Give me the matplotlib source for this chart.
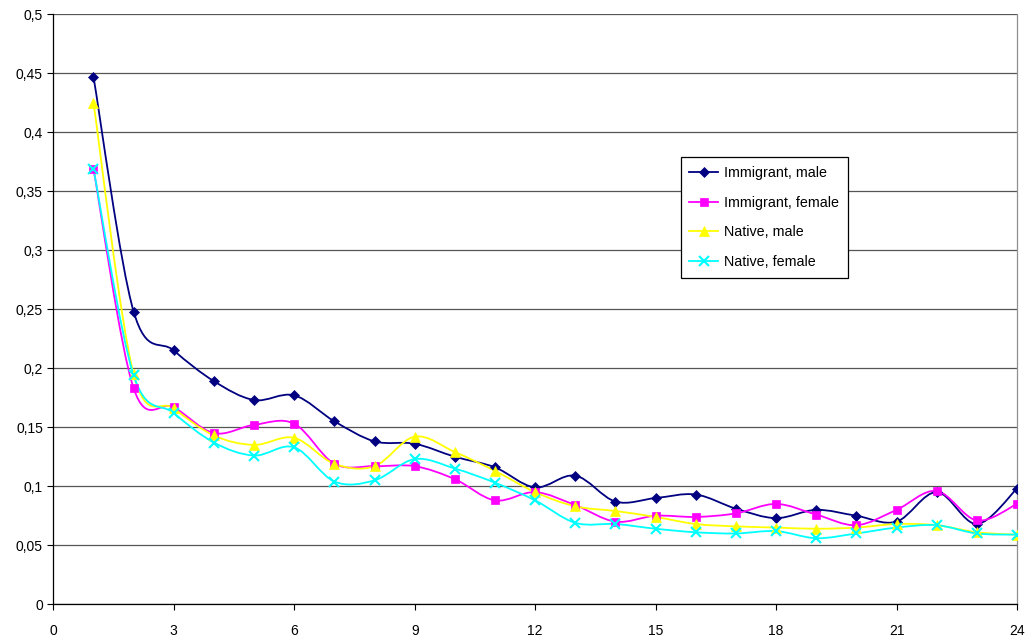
import numpy as np
import matplotlib
matplotlib.use("Agg")
import matplotlib.pyplot as plt
from matplotlib.path import Path
from matplotlib.patches import PathPatch
from matplotlib.lines import Line2D

plt.rcParams['font.family'] = ['Liberation Sans', 'DejaVu Sans']

# duration (x) and rates per group
x = np.arange(1, 25)
immigrant_male = [0.447, 0.248, 0.215, 0.189, 0.173, 0.177, 0.155, 0.138, 0.136, 0.125,
                  0.116, 0.099, 0.109, 0.087, 0.090, 0.093, 0.081, 0.073, 0.080, 0.075,
                  0.070, 0.095, 0.068, 0.098]
immigrant_female = [0.369, 0.183, 0.167, 0.145, 0.152, 0.153, 0.119, 0.117, 0.117, 0.106,
                    0.088, 0.095, 0.084, 0.070, 0.075, 0.074, 0.077, 0.085, 0.076, 0.067,
                    0.080, 0.096, 0.071, 0.085]
native_male = [0.425, 0.195, 0.166, 0.143, 0.135, 0.141, 0.119, 0.117, 0.142, 0.129,
               0.113, 0.095, 0.083, 0.079, 0.074, 0.068, 0.066, 0.065, 0.064, 0.065,
               0.068, 0.067, 0.061, 0.059]
native_female = [0.369, 0.194, 0.162, 0.137, 0.126, 0.133, 0.104, 0.105, 0.123, 0.115,
                 0.103, 0.088, 0.069, 0.068, 0.064, 0.061, 0.060, 0.062, 0.056, 0.060,
                 0.065, 0.067, 0.060, 0.059]

labels = ['Immigrant, male', 'Immigrant, female', 'Native, male', 'Native, female']
colors = ['#000080', '#FF00FF', '#FFFF00', '#00FFFF']
markers = ['D', 's', '^', 'x']
msizes = [5.5, 6, 6.5, 6.5]
series = [immigrant_male, immigrant_female, native_male, native_female]


def smooth_path(xs, ys):
    # cubic bezier segments with catmull-rom style tangents
    pts = np.column_stack([xs, ys]).astype(float)
    n = len(pts)
    verts = [pts[0]]
    codes = [Path.MOVETO]
    for i in range(n - 1):
        p0 = pts[max(i - 1, 0)]
        p1 = pts[i]
        p2 = pts[i + 1]
        p3 = pts[min(i + 2, n - 1)]
        c1 = p1 + (p2 - p0) / 6.0
        c2 = p2 - (p3 - p1) / 6.0
        verts += [c1, c2, p2]
        codes += [Path.CURVE4] * 3
    return Path(verts, codes)


fig = plt.figure(figsize=(10.35, 6.42), dpi=100)
ax = fig.add_axes([53.3 / 1035, 1 - 604.3 / 642, (1017 - 53.3) / 1035, (604.3 - 14) / 642])

handles = []
for vals, c, m, ms, lab in zip(series, colors, markers, msizes, labels):
    ax.add_patch(PathPatch(smooth_path(x, vals), facecolor='none', edgecolor=c,
                           lw=1.3, zorder=3))
    mew = 1.5 if m == 'x' else 0.5
    ax.plot(x, vals, linestyle='none', marker=m, color=c, markersize=ms,
            markeredgewidth=mew, zorder=4)
    handles.append(Line2D([], [], color=c, lw=1.3, marker=m, markersize=ms,
                          markeredgewidth=mew, label=lab))

ax.set_xlim(0, 24)
ax.set_ylim(0, 0.5)
ax.set_xticks(np.arange(0, 25, 3))
ax.set_yticks(np.arange(0, 0.501, 0.05))
ax.set_yticklabels(['0'] + [('%g' % v).replace('.', ',') for v in np.arange(0.05, 0.501, 0.05)])
ax.tick_params(axis='both', labelsize=10, length=4, width=0.8, color='black', direction='out')
ax.tick_params(axis='x', pad=10)
ax.yaxis.grid(True, color='#555555', lw=0.9)
ax.set_axisbelow(True)

for s in ['left', 'bottom']:
    ax.spines[s].set_color('black')
    ax.spines[s].set_linewidth(0.9)
ax.spines['top'].set_visible(False)
ax.spines['right'].set_color('#909090')
ax.spines['right'].set_linewidth(0.9)

leg = ax.legend(handles=handles, loc='upper left', bbox_to_anchor=(0.651, 0.757),
                fontsize=10.3, frameon=True, fancybox=False, edgecolor='black',
                framealpha=1, handlelength=2.0, labelspacing=1.1, borderpad=0.6,
                handletextpad=0.45, borderaxespad=0)
leg.get_frame().set_linewidth(0.9)

fig.savefig('out.png', dpi=100)
